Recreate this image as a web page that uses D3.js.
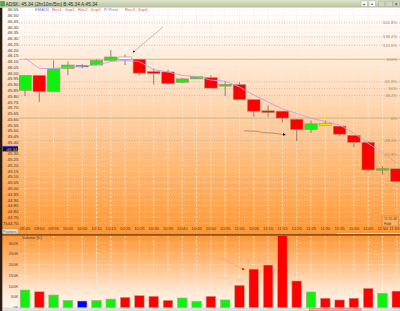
<!DOCTYPE html>
<html>
<head>
<meta charset="utf-8">
<script src="https://cdn.jsdelivr.net/npm/d3@7"></script>
<style>
  body { margin: 0; background: #fff; }
  svg { display: block; font-family: "Liberation Sans", Arial, sans-serif; }
</style>
</head>
<body>
<div id="chart"></div>
<script>
// 5 minute bars, ADSK
const times = ['09:45', '09:50', '09:55', '10:00', '10:05', '10:10', '10:15', '10:20', '10:25',
    '10:30', '10:35', '10:40', '10:45', '10:50', '10:55', '11:00', '11:05', '11:10',
    '11:15', '11:20', '11:25', '11:30', '11:35', '11:40', '11:45', '11:50', '11:55'];
const opens  = [45.85, 45.98, 45.84, 46.04, 46.06, 46.07, 46.11, 46.14, 46.12, 46.01, 46.01, 45.92, 45.95, 45.96,
    45.89, 45.90, 45.77, 45.67, 45.67, 45.60, 45.51, 45.56, 45.54, 45.46, 45.40, 45.16, 45.17];
const highs  = [45.98, 45.98, 46.11, 46.10, 46.08, 46.12, 46.20, 46.16, 46.12, 46.04, 46.03, 45.96, 45.97, 45.98,
    45.93, 45.92, 45.77, 45.72, 45.67, 45.60, 45.59, 45.59, 45.54, 45.46, 45.41, 45.19, 45.17];
const lows   = [45.80, 45.75, 45.84, 45.98, 46.04, 46.07, 46.11, 46.07, 45.98, 45.90, 45.90, 45.91, 45.95, 45.87,
    45.80, 45.77, 45.62, 45.62, 45.57, 45.41, 45.48, 45.55, 45.45, 45.36, 45.15, 45.12, 45.06];
const closes = [45.98, 45.84, 46.04, 46.07, 46.06, 46.11, 46.14, 46.12, 46.00, 46.00, 45.91, 45.95, 45.97, 45.87,
    45.90, 45.77, 45.67, 45.66, 45.61, 45.51, 45.56, 45.55, 45.47, 45.40, 45.16, 45.17, 45.06];
const volumes = [82, 74, 59, 34, 31, 34, 40, 48, 56, 53, 34, 45, 30, 53, 36, 104, 179, 198, 360, 124, 73, 44, 36, 44, 90, 67, 77];
const ema = [46.13, 46.04, 46.04, 46.05, 46.06, 46.07, 46.10, 46.11, 46.10, 46.03, 46.01, 45.98, 45.97, 45.94,
    45.93, 45.88, 45.81, 45.75, 45.69, 45.65, 45.61, 45.58, 45.55, 45.48, 45.39, 45.31, 45.22];

// fib levels measured between the 10:20 high area and the 11:15 low area
const swingHigh = 46.12;
const swingLow = 45.61;
const fibLevels = [1.618, 1.382, 1.236, 1, 0.618, 0.5, 0.382, 0, -0.382, -0.618];
const fibLabels = ['161.8%', '138.2%', '123.6%', '100%', '61.8%', '50%', '38.2%', '0%', '-38.2%', '-61.8%'];

const priceTicks = d3.range(0, 38).map(i => +(44.70 + i * 0.05).toFixed(2));
const volumeTicks = [0, 50, 100, 150, 200, 250, 300];
const legendItems = ['EMA(5)', 'Res1', 'Sup1', 'Res2', 'Sup2', 'Pi Pivot', 'Res3', 'Sup3'];
const lastPrice = 45.34;
const markedBars = { '10:20': '#ffffff', '11:30': '#f2e600' };

const W = 400, H = 311;
const plotLeft = 19;
const main = { top: 7.5, bottom: 235 };
const vol = { top: 235.5, bottom: 308 };

const x = d3.scaleLinear().domain([0, times.length - 1]).range([25, 396.8]);
const y = d3.scaleLinear().domain([44.70, 46.55]).range([223, 9.7]);
const yv = d3.scaleLinear().domain([0, 300]).range([307.7, 243]);

const candleW = 12.6;
const volW = 9.6;

const candles = times.map((t, i) => ({
    i, time: t, open: opens[i], high: highs[i], low: lows[i], close: closes[i], volume: volumes[i]
}));

const dirColor = d => d.close > d.open ? '#11f011' : d.close < d.open ? '#ff0000' : null;

const svg = d3.select('#chart').append('svg')
    .attr('width', W)
    .attr('height', H);

const defs = svg.append('defs');

const mainGrad = defs.append('linearGradient').attr('id', 'mainGrad')
    .attr('x1', 0).attr('y1', 0).attr('x2', 0).attr('y2', 1);
[[0, '#ffffff'], [0.12, '#fff6ee'], [0.4, '#ffd9b6'], [0.7, '#ffb872'], [1, '#ff9733']]
    .forEach(s => mainGrad.append('stop').attr('offset', s[0]).attr('stop-color', s[1]));

const volGrad = defs.append('linearGradient').attr('id', 'volGrad')
    .attr('x1', 0).attr('y1', 0).attr('x2', 0).attr('y2', 1);
[[0, '#ff9633'], [0.35, '#ffba78'], [0.75, '#ffe6cf'], [1, '#fff8f0']]
    .forEach(s => volGrad.append('stop').attr('offset', s[0]).attr('stop-color', s[1]));

const titleGrad = defs.append('linearGradient').attr('id', 'titleGrad')
    .attr('x1', 0).attr('y1', 0).attr('x2', 0).attr('y2', 1);
[[0, '#dfe4cc'], [1, '#b7c09c']]
    .forEach(s => titleGrad.append('stop').attr('offset', s[0]).attr('stop-color', s[1]));

defs.append('clipPath').attr('id', 'clipMain').append('rect')
    .attr('x', plotLeft).attr('y', main.top).attr('width', W - plotLeft).attr('height', 219);
defs.append('clipPath').attr('id', 'clipVol').append('rect')
    .attr('x', plotLeft).attr('y', vol.top + 0.6).attr('width', W - plotLeft).attr('height', vol.bottom - vol.top);

defs.append('marker').attr('id', 'head')
    .attr('viewBox', '0 0 6 6').attr('refX', 5).attr('refY', 3)
    .attr('markerWidth', 4).attr('markerHeight', 4).attr('orient', 'auto')
    .append('path').attr('d', 'M0,0L6,3L0,6Z').attr('fill', '#111');

// panel backgrounds
svg.append('rect').attr('x', 0).attr('y', main.top).attr('width', W).attr('height', main.bottom - main.top)
    .attr('fill', 'url(#mainGrad)');
svg.append('rect').attr('x', 0).attr('y', vol.top).attr('width', W).attr('height', vol.bottom - vol.top)
    .attr('fill', 'url(#volGrad)');

// ---- main price panel ----
const mainG = svg.append('g').attr('clip-path', 'url(#clipMain)');

mainG.selectAll('line.hgrid')
    .data(priceTicks)
    .join('line')
    .attr('class', 'hgrid')
    .attr('x1', plotLeft).attr('x2', W)
    .attr('y1', d => y(d)).attr('y2', d => y(d))
    .attr('stroke', '#eee2d6')
    .attr('stroke-width', 0.6)
    .attr('stroke-dasharray', '1,1.5');

mainG.selectAll('line.vgrid')
    .data(times)
    .join('line')
    .attr('class', 'vgrid')
    .attr('x1', (d, i) => x(i)).attr('x2', (d, i) => x(i))
    .attr('y1', main.top).attr('y2', 226)
    .attr('stroke', '#f7efe6')
    .attr('stroke-width', 0.7)
    .attr('stroke-dasharray', '2.5,1.5');

// fib levels
const fibPrice = p => swingLow + p * (swingHigh - swingLow);
mainG.selectAll('line.fib')
    .data(fibLevels)
    .join('line')
    .attr('class', 'fib')
    .attr('x1', plotLeft).attr('x2', W)
    .attr('y1', d => y(fibPrice(d))).attr('y2', d => y(fibPrice(d)))
    .attr('stroke', '#c9b08c')
    .attr('stroke-width', d => (d === 0 || d === 1) ? 0.9 : 0.7)
    .attr('stroke-dasharray', d => (d === 0 || d === 1) ? null : '1,1.5');

mainG.selectAll('text.fib')
    .data(fibLevels)
    .join('text')
    .attr('class', 'fib')
    .attr('x', 397)
    .attr('y', d => y(fibPrice(d)) + 1.5)
    .attr('text-anchor', 'end')
    .attr('font-size', 4.2)
    .attr('fill', '#a88c66')
    .text((d, i) => fibLabels[i]);

// wicks
mainG.selectAll('line.wick')
    .data(candles)
    .join('line')
    .attr('class', 'wick')
    .attr('x1', d => x(d.i)).attr('x2', d => x(d.i))
    .attr('y1', d => y(d.high)).attr('y2', d => y(d.low))
    .attr('stroke', '#7a6a5a')
    .attr('stroke-width', 0.8);

// bodies
mainG.selectAll('rect.body')
    .data(candles)
    .join('rect')
    .attr('class', 'body')
    .attr('x', d => x(d.i) - candleW / 2)
    .attr('width', candleW)
    .attr('y', d => {
        const top = y(Math.max(d.open, d.close));
        const h = Math.abs(y(d.open) - y(d.close));
        return h < 1.8 ? top - (1.8 - h) / 2 : top;
    })
    .attr('height', d => Math.max(1.8, Math.abs(y(d.open) - y(d.close))))
    .attr('fill', d => markedBars[d.time] || dirColor(d) || '#6a6a6a')
    .attr('stroke', d => dirColor(d) === null ? 'none' : '#b58a6a')
    .attr('stroke-width', 0.6);

// EMA line
mainG.append('path')
    .datum(ema)
    .attr('fill', 'none')
    .attr('stroke', '#c79cf0')
    .attr('stroke-width', 0.9)
    .attr('d', d3.line().x((d, i) => x(i)).y(d => y(d)));

// drawn annotations
mainG.append('line')
    .attr('x1', x(9.65)).attr('y1', y(46.40))
    .attr('x2', x(7.55)).attr('y2', y(46.18))
    .attr('stroke', '#9a9088').attr('stroke-width', 0.6)
    .attr('marker-end', 'url(#head)');

mainG.append('path')
    .datum([[15.3, 45.50], [16.3, 45.495], [16.6, 45.485], [17.3, 45.48], [18.2, 45.465]])
    .attr('fill', 'none')
    .attr('stroke', '#8a7a6a').attr('stroke-width', 0.7)
    .attr('marker-end', 'url(#head)')
    .attr('d', d3.line().x(d => x(d[0])).y(d => y(d[1])));

mainG.append('circle')
    .attr('cx', x(7.0)).attr('cy', y(46.21)).attr('r', 1.5)
    .attr('fill', '#ffffff');

mainG.append('path')
    .attr('transform', `translate(${x(20.95)},${y(45.62)})`)
    .attr('d', 'M0,-2.2L1.6,0L0.6,0L0.6,2L-0.6,2L-0.6,0L-1.6,0Z')
    .attr('fill', '#ffee00');

// legend row
let lx = 35;
legendItems.forEach((t, i) => {
    svg.append('text')
        .attr('x', lx).attr('y', 11)
        .attr('font-size', 4.2)
        .attr('fill', (i === 0 || i === 5) ? '#6f7cf0' : '#f05a5a')
        .text(t);
    lx += t.length * 2.1 + 4.5;
});

// price axis labels
svg.selectAll('text.price')
    .data(priceTicks.filter(d => y(d) > 8))
    .join('text')
    .attr('class', 'price')
    .attr('x', 18.5)
    .attr('y', d => y(d) + 1.6)
    .attr('text-anchor', 'end')
    .attr('font-size', 4.4)
    .attr('fill', '#3a3a3a')
    .text(d => d.toFixed(2));

// last price marker
svg.append('rect')
    .attr('x', 2.5).attr('y', y(lastPrice) - 2.8)
    .attr('width', 15.5).attr('height', 5)
    .attr('fill', '#141428');
svg.append('line')
    .attr('x1', 2.5).attr('x2', 18)
    .attr('y1', y(lastPrice) - 2.8).attr('y2', y(lastPrice) - 2.8)
    .attr('stroke', '#3a3aff').attr('stroke-width', 1);
svg.append('text')
    .attr('x', 17.5).attr('y', y(lastPrice) + 1.6)
    .attr('text-anchor', 'end')
    .attr('font-size', 4.4)
    .attr('fill', '#d9b476')
    .text(lastPrice.toFixed(2));

svg.append('text')
    .attr('x', 3).attr('y', 224.5)
    .attr('font-size', 4.2)
    .attr('fill', '#3a3a3a')
    .text('Tk');

// time labels (last one pulled in so it stays inside the window)
const lastIdx = times.length - 1;
svg.selectAll('text.time')
    .data(times)
    .join('text')
    .attr('class', 'time')
    .attr('x', (d, i) => i === lastIdx ? W - 0.5 : x(i))
    .attr('y', 229.6)
    .attr('text-anchor', (d, i) => i === lastIdx ? 'end' : 'middle')
    .attr('font-size', 4.2)
    .attr('fill', '#4a3a2a')
    .text(d => d);

// time stamp box at bottom right
svg.append('rect')
    .attr('x', 382).attr('y', 216).attr('width', 16.5).attr('height', 10)
    .attr('fill', '#ffad5e').attr('stroke', '#b0804e').attr('stroke-width', 0.5);
svg.append('text').attr('x', 384).attr('y', 220.2).attr('font-size', 3.4).attr('fill', '#5a3a1a').text('11:55:46');
svg.append('text').attr('x', 384).attr('y', 224.6).attr('font-size', 3.4).attr('fill', '#5a3a1a').text('Hold');

svg.append('line')
    .attr('x1', 337).attr('x2', W).attr('y1', 233.6).attr('y2', 233.6)
    .attr('stroke', '#fbe8d8').attr('stroke-width', 1);

// separator
svg.append('line')
    .attr('x1', 0).attr('x2', W).attr('y1', 235).attr('y2', 235)
    .attr('stroke', '#111').attr('stroke-width', 1.2);

svg.append('rect')
    .attr('x', 2).attr('y', 229).attr('width', 16).attr('height', 4.8)
    .attr('fill', '#e9e9e2').attr('stroke', '#9a9a90').attr('stroke-width', 0.4);
svg.append('text')
    .attr('x', 10).attr('y', 232.6).attr('text-anchor', 'middle')
    .attr('font-size', 3.3).attr('fill', '#555')
    .text('Positions');

// ---- volume panel ----
const volG = svg.append('g').attr('clip-path', 'url(#clipVol)');

volG.selectAll('line.vhgrid')
    .data(volumeTicks)
    .join('line')
    .attr('class', 'vhgrid')
    .attr('x1', plotLeft).attr('x2', W)
    .attr('y1', d => yv(d)).attr('y2', d => yv(d))
    .attr('stroke', '#fbeee2')
    .attr('stroke-width', 0.6)
    .attr('stroke-dasharray', '1,1.5');

volG.selectAll('line.vvgrid')
    .data(times)
    .join('line')
    .attr('class', 'vvgrid')
    .attr('x1', (d, i) => x(i)).attr('x2', (d, i) => x(i))
    .attr('y1', vol.top).attr('y2', vol.bottom)
    .attr('stroke', '#fbf0e6')
    .attr('stroke-width', 0.7)
    .attr('stroke-dasharray', '2.5,1.5');

volG.selectAll('rect.vol')
    .data(candles)
    .join('rect')
    .attr('class', 'vol')
    .attr('x', d => x(d.i) - volW / 2)
    .attr('width', volW)
    .attr('y', d => yv(d.volume))
    .attr('height', d => yv(0) - yv(d.volume))
    .attr('fill', d => dirColor(d) || '#0000ff')
    .attr('stroke', '#c8a48c')
    .attr('stroke-width', 0.6);

volG.append('line')
    .attr('x1', x(13.7)).attr('y1', yv(230))
    .attr('x2', x(15.25)).attr('y2', yv(179))
    .attr('stroke', '#f06a6a').attr('stroke-width', 0.6)
    .attr('stroke-dasharray', '1,1');
volG.append('rect')
    .attr('x', x(15.25) - 1).attr('y', yv(179) - 1)
    .attr('width', 2).attr('height', 2)
    .attr('fill', '#ee2222');

svg.selectAll('text.vtick')
    .data(volumeTicks)
    .join('text')
    .attr('class', 'vtick')
    .attr('x', 18.3)
    .attr('y', d => yv(d) + 1.5)
    .attr('text-anchor', 'end')
    .attr('font-size', 4.2)
    .attr('fill', '#4a4a4a')
    .text(d => d + 'K');

svg.append('text')
    .attr('x', 22).attr('y', 239)
    .attr('font-size', 4)
    .attr('fill', '#3a3a3a')
    .text('Volume (K)');

// scroll bar
svg.append('rect')
    .attr('x', 0).attr('y', 308).attr('width', W).attr('height', 3)
    .attr('fill', '#e4e4e0').attr('stroke', '#b8b8b0').attr('stroke-width', 0.4);
svg.append('rect')
    .attr('x', x(19.9)).attr('y', 308.2).attr('width', x(23.5) - x(19.9)).attr('height', 2.6)
    .attr('fill', '#f6b4b4').attr('stroke', '#e06060').attr('stroke-width', 0.5);

// left frame
svg.append('rect')
    .attr('x', 0).attr('y', 7.5).attr('width', 2.3).attr('height', H - 7.5)
    .attr('fill', '#2a1c12');

// title bar
svg.append('rect')
    .attr('x', 0).attr('y', 0).attr('width', W).attr('height', 7.5)
    .attr('fill', 'url(#titleGrad)');
svg.append('rect')
    .attr('x', 0.8).attr('y', 1.5).attr('width', 3.5).attr('height', 4.5)
    .attr('fill', '#2fbf2f').attr('stroke', '#3a6a2a').attr('stroke-width', 0.4);
svg.append('text')
    .attr('x', 5.5).attr('y', 5.6)
    .attr('font-size', 4.8)
    .attr('fill', '#2e2e2e')
    .text('ADSK: 45.34 (2hr10m/5m)   B:45.34 A:45.34');

const buttons = [
    { x: 361, fill: '#ffffff', sym: '+' },
    { x: 369, fill: '#ffffff', sym: '▪' },
    { x: 378.5, fill: '#cfd6c2', sym: '' },
    { x: 386, fill: '#cfd6c2', sym: '' },
    { x: 393, fill: '#cfd6c2', sym: '×' }
];
buttons.forEach(b => {
    svg.append('rect')
        .attr('x', b.x).attr('y', 1).attr('width', 6.3).attr('height', 5.5)
        .attr('fill', b.fill).attr('stroke', '#9aa090').attr('stroke-width', 0.4);
    svg.append('text')
        .attr('x', b.x + 3.15).attr('y', 5.6).attr('text-anchor', 'middle')
        .attr('font-size', 5.5).attr('fill', '#333')
        .text(b.sym);
});
</script>
</body>
</html>
